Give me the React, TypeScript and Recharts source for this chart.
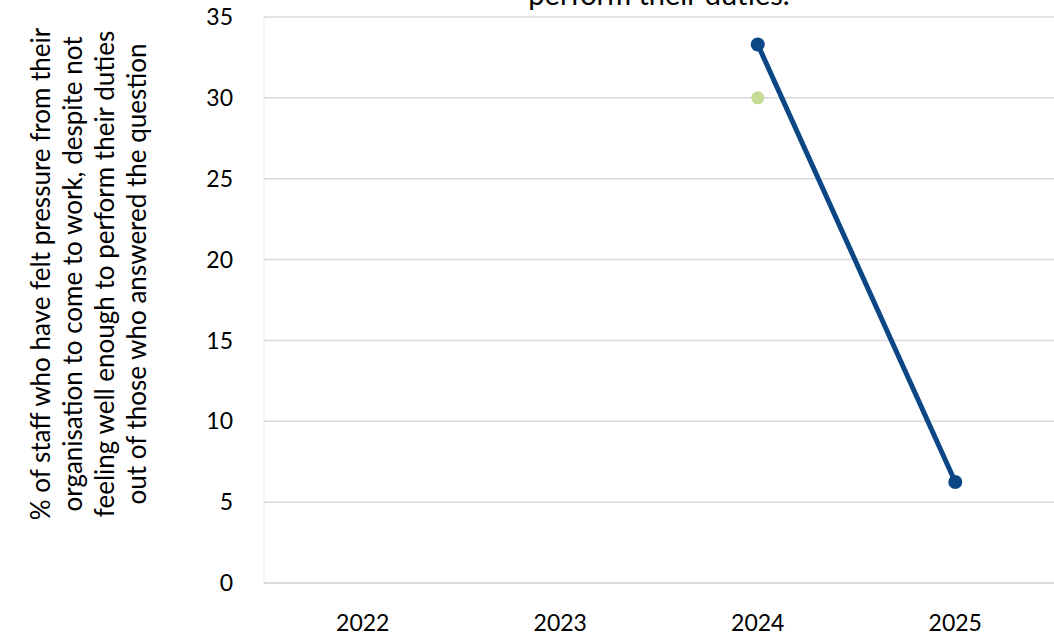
import { LineChart, Line, XAxis, YAxis, CartesianGrid } from 'recharts'

const years = ['2022', '2023', '2024', '2025']
const orgValues: (number | null)[] = [null, null, 33.3, 6.25]
const benchmarkValues: (number | null)[] = [null, null, 30, null]
const yTicks = [0, 5, 10, 15, 20, 25, 30, 35]
const yLabelLines = [
  '% of staff who have felt pressure from their',
  'organisation to come to work, despite not',
  'feeling well enough to perform their duties',
  'out of those who answered the question',
]
const titleTail = 'perform their duties.'

const FONT = 'Lato, "Open Sans", sans-serif'

export default function App() {
  const data = years.map((year, i) => ({
    year,
    org: orgValues[i],
    benchmark: benchmarkValues[i],
  }))

  return (
    <div
      style={{
        position: 'absolute',
        left: 0,
        top: 0,
        width: 1054,
        height: 640,
        overflow: 'hidden',
        background: '#fff',
        fontFamily: FONT,
      }}
    >
      {/* only the last line of the title is visible, the rest is above the frame */}
      <div
        style={{
          position: 'absolute',
          left: 264,
          width: 790,
          top: -21,
          textAlign: 'center',
          fontSize: 29,
          lineHeight: '30px',
          color: '#000',
          whiteSpace: 'nowrap',
        }}
      >
        {titleTail}
      </div>
      <div
        style={{
          position: 'absolute',
          left: 88 - 280,
          top: 274 - 64,
          width: 560,
          height: 128,
          transform: 'rotate(-90deg)',
          transformOrigin: 'center',
          textAlign: 'center',
          fontSize: 26,
          lineHeight: '32px',
          color: '#000',
          whiteSpace: 'nowrap',
        }}
      >
        {yLabelLines.map((l) => (
          <div key={l}>{l}</div>
        ))}
      </div>
      <LineChart
        width={1054}
        height={640}
        data={data}
        margin={{ top: 17, right: 0, bottom: 0, left: 0 }}
        style={{ position: 'absolute', left: 0, top: 0 }}
      >
        <CartesianGrid vertical={false} stroke="#d9d9d9" strokeWidth={1.5} />
        <XAxis
          dataKey="year"
          height={57}
          padding={{ left: 98.75, right: 98.75 }}
          axisLine={{ stroke: '#d9d9d9', strokeWidth: 1.5 }}
          tickLine={false}
          tickSize={0}
          tickMargin={32}
          tick={{ fontSize: 23, fill: '#000', fontFamily: FONT }}
        />
        <YAxis
          width={264}
          domain={[0, 35]}
          ticks={yTicks}
          interval={0}
          axisLine={{ stroke: '#ddebf7', strokeWidth: 1 }}
          tickLine={false}
          tickSize={0}
          tickMargin={31}
          tick={{ fontSize: 23, fill: '#000', fontFamily: FONT }}
        />
        <Line
          dataKey="org"
          stroke="#0b4785"
          strokeWidth={5}
          dot={{ r: 7, fill: '#0b4785', stroke: '#0b4785', strokeWidth: 0 }}
          activeDot={false}
          isAnimationActive={false}
        />
        <Line
          dataKey="benchmark"
          stroke="none"
          strokeWidth={0}
          dot={{ r: 6.5, fill: '#c6da96', stroke: '#c6da96', strokeWidth: 0 }}
          activeDot={false}
          isAnimationActive={false}
        />
      </LineChart>
    </div>
  )
}
